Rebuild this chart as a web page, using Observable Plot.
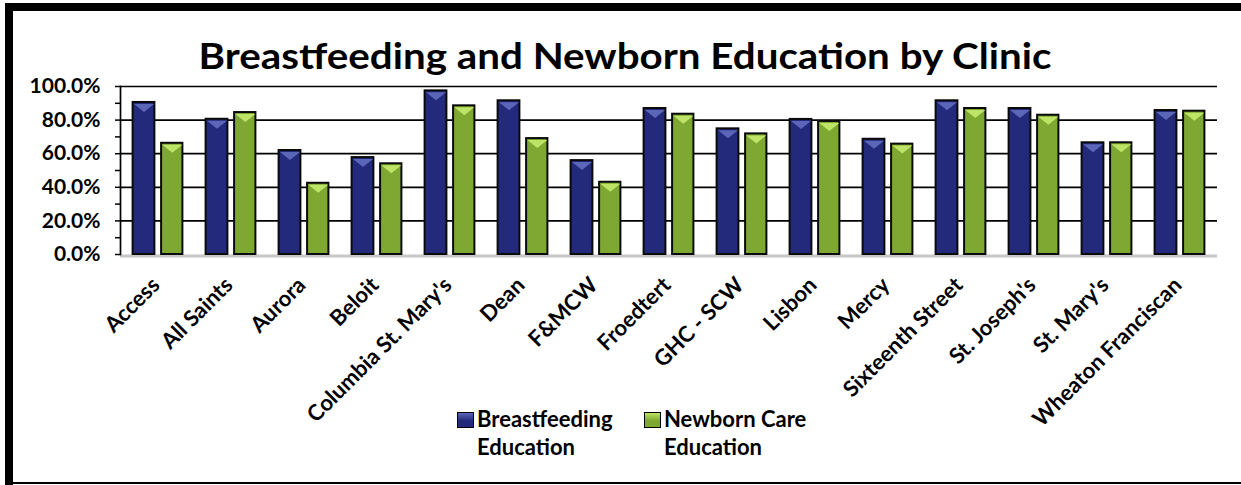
<!DOCTYPE html>
<html><head><meta charset="utf-8">
<script src="https://cdn.jsdelivr.net/npm/d3@7"></script>
<script src="https://cdn.jsdelivr.net/npm/@observablehq/plot@0.6"></script>
<style>
html,body{margin:0;padding:0;background:#fff;}
#wrap{position:relative;width:1241px;height:485px;overflow:hidden;font-family:Lato,"Open Sans",sans-serif;font-weight:bold;color:#000;}
#wrap svg{position:absolute;left:0;top:0;}
.border{position:absolute;background:#000;}
#title{position:absolute;left:0;width:1250px;top:33px;text-align:center;font-size:36px;line-height:44px;white-space:nowrap;transform:scaleX(1.12);transform-origin:625px 0;}
.leg{position:absolute;top:405px;font-size:22px;line-height:28px;}
.sw{position:absolute;top:412px;width:15px;height:14px;border:1px solid #000;}
</style></head><body>
<div id="wrap">
  <div id="title"></div>
</div>
<script>
const clinics = ["Access","All Saints","Aurora","Beloit","Columbia St. Mary's","Dean","F&MCW","Froedtert","GHC - SCW","Lisbon","Mercy","Sixteenth Street","St. Joseph's","St. Mary's","Wheaton Franciscan"];
const breastfeeding = [0.905,0.805,0.619,0.577,0.974,0.915,0.559,0.869,0.748,0.804,0.686,0.915,0.869,0.665,0.857];
const newborn = [0.662,0.845,0.424,0.540,0.885,0.690,0.430,0.835,0.718,0.792,0.657,0.869,0.829,0.665,0.853];
const seriesNames = ["Breastfeeding Education","Newborn Care Education"];
const seriesColors = ["#232a7c","#7ea832"];
const topColors = ["#5c66b8","#bde466"];
const yTicks = [0,0.2,0.4,0.6,0.8,1.0];
const yMinorTicks = [0.1,0.3,0.5,0.7,0.9];
const titleText = "Breastfeeding and Newborn Education by Clinic";

const triDown = {draw(ctx){ctx.moveTo(-10,0);ctx.lineTo(10,0);ctx.lineTo(0,8);ctx.closePath();}};
const rows = clinics.map((c,i)=>({clinic:c, b:breastfeeding[i], n:newborn[i]}));

const chart = Plot.plot({
  width:1241, height:485,
  marginLeft:120, marginRight:24, marginTop:86, marginBottom:231,
  x:{type:"band", domain:clinics, padding:0, axis:null},
  y:{domain:[0,1], axis:null},
  style:{fontFamily:"Lato, 'Open Sans', sans-serif", fontWeight:"bold", color:"#000", background:"transparent"},
  marks:[
    Plot.ruleY(yTicks.filter(d=>d>0), {stroke:"#000", strokeWidth:1.7}),
    Plot.ruleY([0], {stroke:"#c8c8c8", strokeWidth:3, dy:1.5}),
    Plot.axisY(yTicks, {tickSize:5, tickPadding:15, tickFormat:d3.format(".1%"), fontSize:21, fontWeight:"bold", strokeWidth:1.5, stroke:"#000"}),
    Plot.axisY(yMinorTicks, {tickSize:5, tickFormat:()=>"", strokeWidth:1.5, stroke:"#000"}),
    Plot.frame({anchor:"left", stroke:"#000", strokeWidth:1.7}),
    Plot.barY(rows, {x:"clinic", y:"b", fill:seriesColors[0], stroke:"#0a0a0a", strokeWidth:2, insetLeft:11.6, insetRight:39.6}),
    Plot.barY(rows, {x:"clinic", y:"n", fill:seriesColors[1], stroke:"#0a0a0a", strokeWidth:2, insetLeft:40.1, insetRight:11.6}),
    Plot.dot(rows, {x:"clinic", y:"b", symbol:triDown, fill:topColors[0], stroke:null, dx:-14, dy:1.5}),
    Plot.dot(rows, {x:"clinic", y:"n", symbol:triDown, fill:topColors[1], stroke:null, dx:14.3, dy:1.5}),
    Plot.text(clinics, {x:d=>d, frameAnchor:"bottom", text:d=>d, rotate:-45, textAnchor:"end", lineAnchor:"bottom", dy:32, dx:3, fontSize:22, fontWeight:"bold", fill:"#000"})
  ]
});
const wrap = document.getElementById("wrap");
wrap.appendChild(chart);
document.getElementById("title").textContent = titleText;

// frame border
[[5,3,1236,8],[5,3,8,482],[5,482,1236,2]].forEach(([l,t,w,h])=>{
  const d=document.createElement("div"); d.className="border";
  Object.assign(d.style,{left:l+"px",top:t+"px",width:w+"px",height:h+"px"}); wrap.appendChild(d);
});
// legend
const legPos = [457, 644];
seriesNames.forEach((s,i)=>{
  const sw=document.createElement("div"); sw.className="sw";
  sw.style.left=legPos[i]+"px";
  sw.style.background=`linear-gradient(to bottom, ${topColors[i]} 0%, ${seriesColors[i]} 55%)`;
  wrap.appendChild(sw);
  const t=document.createElement("div"); t.className="leg";
  t.style.left=(legPos[i]+20)+"px";
  const parts=s.split(" "); const last=parts.pop();
  t.innerHTML=parts.join(" ")+"<br>"+last;
  wrap.appendChild(t);
});
</script>
</body></html>
